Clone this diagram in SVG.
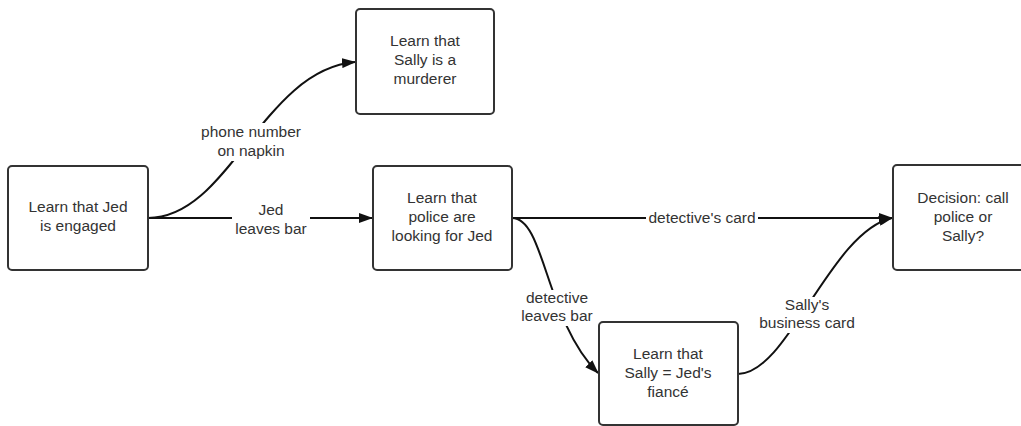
<svg xmlns="http://www.w3.org/2000/svg" width="1021" height="426" viewBox="0 0 1021 426">
  <style>
    .box { fill: #ffffff; stroke: #333333; stroke-width: 2; }
    .txt { font-family: "Liberation Sans", Arial, sans-serif; font-size: 15.5px; fill: #333333; text-anchor: middle; }
    .edge { fill: none; stroke: #111111; stroke-width: 2; }
    .bg { fill: #ffffff; }
  </style>
  <defs>
    <marker id="arrow" viewBox="0 0 14 10" refX="13" refY="5" markerWidth="14" markerHeight="10" markerUnits="userSpaceOnUse" orient="auto">
      <path d="M0,0 L14,5 L0,10 Z" fill="#111111"/>
    </marker>
  </defs>

  <!-- connectors -->
  <g id="connectors">
    <path class="edge" d="M148,218 C230,218 262,70 355,62" marker-end="url(#arrow)"/>
    <path class="edge" d="M148,218 L372,218" marker-end="url(#arrow)"/>
    <path class="edge" d="M512,218 L892,218" marker-end="url(#arrow)"/>
    <path class="edge" d="M512,218 C545,218 545,320 598,373" marker-end="url(#arrow)"/>
    <path class="edge" d="M738,374 C788,374 830,232 892,218" marker-end="url(#arrow)"/>

    <!-- edge labels -->
    <g id="label-phone">
      <rect class="bg" x="201" y="123" width="100" height="38"/>
      <text class="txt" x="251" y="137">phone number</text>
      <text class="txt" x="251" y="156">on napkin</text>
    </g>
    <g id="label-jed-leaves">
      <rect class="bg" x="232" y="203" width="78" height="36"/>
      <text class="txt" x="271" y="215">Jed</text>
      <text class="txt" x="271" y="234">leaves bar</text>
    </g>
    <g id="label-detective-card">
      <rect class="bg" x="646" y="209" width="112" height="18"/>
      <text class="txt" x="702" y="223">detective's card</text>
    </g>
    <g id="label-detective-leaves">
      <rect class="bg" x="519" y="290" width="76" height="36"/>
      <text class="txt" x="557" y="303">detective</text>
      <text class="txt" x="557" y="321">leaves bar</text>
    </g>
    <g id="label-business-card">
      <rect class="bg" x="757" y="297" width="100" height="36"/>
      <text class="txt" x="807" y="310">Sally's</text>
      <text class="txt" x="807" y="328">business card</text>
    </g>
  </g>

  <!-- nodes -->
  <g id="node-jed-engaged">
    <rect class="box" x="8" y="166" width="140" height="104" rx="4"/>
    <text class="txt" x="78" y="212">Learn that Jed</text>
    <text class="txt" x="78" y="231">is engaged</text>
  </g>
  <g id="node-sally-murderer">
    <rect class="box" x="356" y="9" width="138" height="105" rx="4"/>
    <text class="txt" x="425" y="46">Learn that</text>
    <text class="txt" x="425" y="65">Sally is a</text>
    <text class="txt" x="425" y="84">murderer</text>
  </g>
  <g id="node-police-looking">
    <rect class="box" x="373" y="166" width="139" height="104" rx="4"/>
    <text class="txt" x="442" y="203">Learn that</text>
    <text class="txt" x="442" y="222">police are</text>
    <text class="txt" x="442" y="241">looking for Jed</text>
  </g>
  <g id="node-sally-fiance">
    <rect class="box" x="599" y="322" width="139" height="103" rx="4"/>
    <text class="txt" x="668" y="359">Learn that</text>
    <text class="txt" x="668" y="378">Sally = Jed's</text>
    <text class="txt" x="668" y="397">fiancé</text>
  </g>
  <g id="node-decision">
    <rect class="box" x="893" y="165" width="140" height="105" rx="4"/>
    <text class="txt" x="963" y="203">Decision: call</text>
    <text class="txt" x="963" y="222">police or</text>
    <text class="txt" x="963" y="241">Sally?</text>
  </g>
</svg>
